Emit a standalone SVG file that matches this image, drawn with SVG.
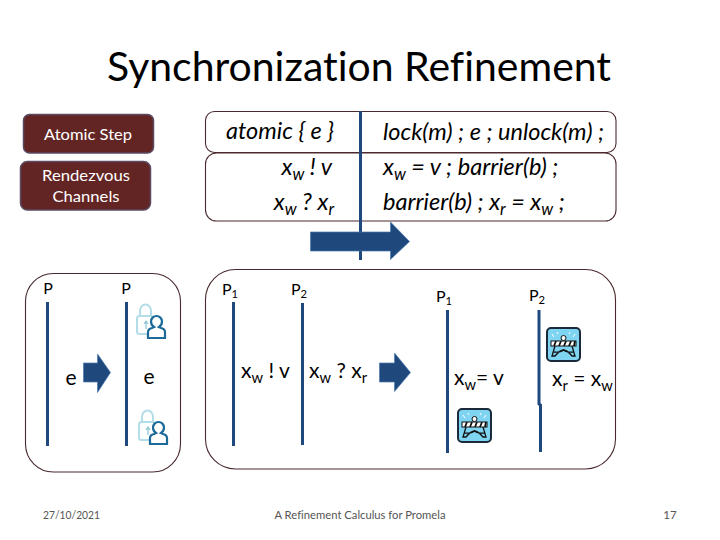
<svg xmlns="http://www.w3.org/2000/svg" width="720" height="540" viewBox="0 0 720 540">
<style>
text{font-family:"Lato","Open Sans","Liberation Sans",sans-serif;fill:#000;font-variant-ligatures:none}
.panel{fill:none;stroke:#4a2a2e;stroke-width:1.1}
.btn{fill:#632523;stroke:#5a4a62;stroke-width:1.5}
.btxt{fill:#fff;font-size:15px;text-anchor:middle}
.it{font-style:italic;font-size:23.5px}
.lbl{font-size:16px}
.big{font-size:21px}
.mid{font-size:21px}
.sub{font-size:70%;baseline-shift:-30%}
.life{stroke:#1f497d;stroke-width:3;fill:none}
.arrow{fill:#1f497d;stroke:#4a7ab0;stroke-width:.7}
.foot{font-size:11.5px;fill:#555}
</style>
<defs>
<g id="lockicon">
<rect x="0" y="13" width="16" height="18" rx="2.5" fill="#fff" stroke="#b3dde8" stroke-width="2"/>
<path d="M3 13V8a5.5 6.5 0 0 1 11 0v5" fill="none" stroke="#b3dde8" stroke-width="2"/>
<path d="M9 26v-7M7 21l2-3 2 3" fill="none" stroke="#8cc4d4" stroke-width="1.2"/>
<path d="M11 35v-6q0-3 4-4l2-1q-3-2-3-5.500a5.500 5.500 0 0 1 11 0q0 3.500-3 5.500l2 1q4 1 4 4v6z" fill="#fff" stroke="#1c6a9a" stroke-width="2.200"/>
</g>
<g id="barrier">
<rect x="1" y="1" width="33" height="33" rx="4" fill="#7fd4f2" stroke="#1a2a3a" stroke-width="2"/>
<rect x="5" y="14" width="25" height="5" fill="#fff" stroke="#111" stroke-width="1"/>
<path d="M8 19l2-5M13 19l2-5M18 19l2-5M23 19l2-5M28 19l1-5" stroke="#111" stroke-width="1.800"/>
<circle cx="17.500" cy="11" r="2.500" fill="#fff" stroke="#111" stroke-width="1"/>
<path d="M8 10l-2-3M12 7l-1-2M23 7l1-2M27 10l2-3" stroke="#fff" stroke-width="1"/>
<path d="M9 19L6 29h3q5-6 8.500-6t8.500 6h3l-3-10M7 25q10 1 10.500-3q.5 4 10.500 3" fill="none" stroke="#111" stroke-width="1.300"/>
</g>
</defs>

<text x="359" y="81" text-anchor="middle" font-size="40" textLength="504" lengthAdjust="spacingAndGlyphs">Synchronization Refinement</text>

<g id="atomic-step"><rect class="btn" x="23.500" y="114.500" width="130" height="38.500" rx="6"/><text class="btxt" x="88" y="140" textLength="88" lengthAdjust="spacingAndGlyphs">Atomic Step</text></g>
<g id="rendezvous"><rect class="btn" x="20.500" y="161.500" width="130" height="48.500" rx="7"/><text class="btxt" x="86" y="181" textLength="88" lengthAdjust="spacingAndGlyphs">Rendezvous</text><text class="btxt" x="86" y="202" textLength="67" lengthAdjust="spacingAndGlyphs">Channels</text></g>

<g id="table">
<rect class="panel" x="205.500" y="111.500" width="410.500" height="41" rx="9"/>
<rect class="panel" x="205.500" y="153" width="410.500" height="68" rx="11"/>
<text class="it" x="334" y="139" text-anchor="end">atomic { e }</text>
<text class="it" x="332" y="175" text-anchor="end">x<tspan class="sub">w</tspan> ! v</text>
<text class="it" x="334" y="210" text-anchor="end">x<tspan class="sub">w</tspan> ? x<tspan class="sub">r</tspan></text>
<text class="it" x="383" y="140">lock(m) ; e ; unlock(m) ;</text>
<text class="it" x="383" y="175">x<tspan class="sub">w</tspan> = v ; barrier(b) ;</text>
<text class="it" x="383" y="210">barrier(b) ; x<tspan class="sub">r</tspan> =  x<tspan class="sub">w</tspan> ;</text>
</g>

<g id="connectors">
<path class="life" d="M360.500 111V260"/>
<path class="arrow" d="M310.500 232H390.500V222L409.500 241.500L390.500 259.500V251H310.500z"/>
<path class="life" d="M47.500 302V446M126.500 302V446M233.500 302V446M302.500 303V445M447.500 310V453"/>
<path class="life" d="M539 310V404L540.500 405V452"/>
<path class="arrow" d="M83.500 363H97.500V354L110.500 372.500L97.500 392.500V382H83.500z"/>
<path class="arrow" d="M379.500 363H394.500V353L410.500 372.500L394.500 391.500V382H379.500z"/>
</g>

<g id="panel-left"><rect class="panel" x="25.500" y="273.500" width="155" height="198.500" rx="28"/>
<text class="lbl" x="48" y="294" text-anchor="middle">P</text>
<text class="lbl" x="126" y="294" text-anchor="middle">P</text>
<text class="big" x="71" y="385" text-anchor="middle">e</text>
<text class="big" x="149" y="384" text-anchor="middle">e</text>
<use href="#lockicon" x="137" y="303"/>
<use href="#lockicon" x="139" y="409"/>
</g>

<g id="panel-right"><rect class="panel" x="205.500" y="269.500" width="410" height="199.500" rx="30"/>
<text class="lbl" x="222" y="295">P<tspan class="sub">1</tspan></text>
<text class="lbl" x="291" y="295">P<tspan class="sub">2</tspan></text>
<text class="lbl" x="436" y="302">P<tspan class="sub">1</tspan></text>
<text class="lbl" x="529" y="301">P<tspan class="sub">2</tspan></text>
<text class="mid" x="241" y="378">x<tspan class="sub">w</tspan> ! v</text>
<text class="mid" x="309" y="378">x<tspan class="sub">w</tspan> ? x<tspan class="sub">r</tspan></text>
<text class="mid" x="454" y="385">x<tspan class="sub">w</tspan>= v</text>
<text class="mid" x="552" y="386">x<tspan class="sub">r</tspan> = x<tspan class="sub">w</tspan></text>
<use href="#barrier" x="546" y="327"/>
<use href="#barrier" x="457" y="408"/>
</g>

<text class="foot" x="43" y="519" textLength="57" lengthAdjust="spacingAndGlyphs">27/10/2021</text>
<text class="foot" x="360" y="519" text-anchor="middle" textLength="171" lengthAdjust="spacingAndGlyphs">A Refinement Calculus for Promela</text>
<text class="foot" x="670" y="519" text-anchor="middle">17</text>
</svg>
